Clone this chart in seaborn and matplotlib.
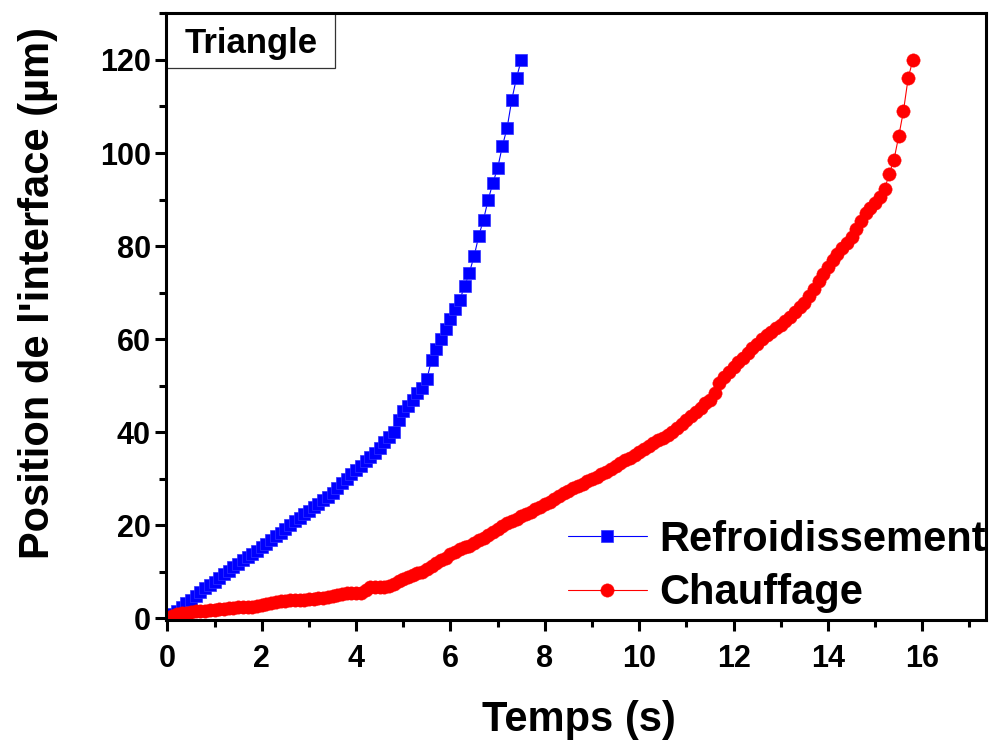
import numpy as np
import pandas as pd
import matplotlib
matplotlib.use("Agg")
import matplotlib.pyplot as plt
from matplotlib.patches import Rectangle
from matplotlib.ticker import MultipleLocator
import seaborn as sns

# temps (s) et position de l'interface (µm)
t_refroid = [0.0, 0.1, 0.2, 0.3, 0.4, 0.5, 0.6, 0.7, 0.8, 0.9,
             1.0, 1.1, 1.2, 1.3, 1.4, 1.5, 1.6, 1.7, 1.8, 1.9,
             2.0, 2.1, 2.2, 2.3, 2.4, 2.5, 2.6, 2.7, 2.8, 2.9,
             3.0, 3.1, 3.2, 3.3, 3.4, 3.5, 3.6, 3.7, 3.8, 3.9,
             4.0, 4.1, 4.2, 4.3, 4.4, 4.5, 4.6, 4.7, 4.8, 4.9,
             5.0, 5.1, 5.2, 5.3, 5.4, 5.5, 5.6, 5.7, 5.8, 5.9,
             6.0, 6.1, 6.2, 6.3, 6.4, 6.5, 6.6, 6.7, 6.8, 6.9,
             7.0, 7.1, 7.2, 7.3, 7.4, 7.5]
pos_refroid = [0.0, 0.8, 1.6, 2.4, 3.2, 4.0, 4.8, 5.6, 6.4, 7.1,
               7.8, 8.6, 9.4, 10.2, 10.9, 11.7, 12.4, 13.1, 13.8, 14.5,
               15.2, 16.0, 16.8, 17.6, 18.4, 19.2, 20.0, 20.9, 21.6, 22.3,
               23.0, 23.8, 24.6, 25.3, 26.1, 27.0, 28.0, 29.0, 30.0, 31.0,
               31.9, 32.8, 33.8, 34.7, 35.6, 36.5, 37.9, 39.0, 40.1, 42.7,
               44.5, 45.6, 47.0, 48.5, 49.4, 51.4, 55.6, 57.8, 60.0, 62.2,
               64.3, 66.4, 68.5, 71.4, 74.3, 77.8, 82.2, 85.7, 90.0, 93.6,
               96.8, 101.5, 105.4, 111.5, 116.2, 120.0]

t_chauff = [0.0, 0.1, 0.2, 0.3, 0.4, 0.5, 0.6, 0.7, 0.8, 0.9,
            1.0, 1.1, 1.2, 1.3, 1.4, 1.5, 1.6, 1.7, 1.8, 1.9,
            2.0, 2.1, 2.2, 2.3, 2.4, 2.5, 2.6, 2.7, 2.8, 2.9,
            3.0, 3.1, 3.2, 3.3, 3.4, 3.5, 3.6, 3.7, 3.8, 3.9,
            4.0, 4.1, 4.2, 4.3, 4.4, 4.5, 4.6, 4.7, 4.8, 4.9,
            5.0, 5.1, 5.2, 5.3, 5.4, 5.5, 5.6, 5.7, 5.8, 5.9,
            6.0, 6.1, 6.2, 6.3, 6.4, 6.5, 6.6, 6.7, 6.8, 6.9,
            7.0, 7.1, 7.2, 7.3, 7.4, 7.5, 7.6, 7.7, 7.8, 7.9,
            8.0, 8.1, 8.2, 8.3, 8.4, 8.5, 8.6, 8.7, 8.8, 8.9,
            9.0, 9.1, 9.2, 9.3, 9.4, 9.5, 9.6, 9.7, 9.8, 9.9,
            10.0, 10.1, 10.2, 10.3, 10.4, 10.5, 10.6, 10.7, 10.8, 10.9,
            11.0, 11.1, 11.2, 11.3, 11.4, 11.5, 11.6, 11.7, 11.8, 11.9,
            12.0, 12.1, 12.2, 12.3, 12.4, 12.5, 12.6, 12.7, 12.8, 12.9,
            13.0, 13.1, 13.2, 13.3, 13.4, 13.5, 13.6, 13.7, 13.8, 13.9,
            14.0, 14.1, 14.2, 14.3, 14.4, 14.5, 14.6, 14.7, 14.8, 14.9,
            15.0, 15.1, 15.2, 15.3, 15.4, 15.5, 15.6, 15.7, 15.8]
pos_chauff = [0.0, 0.5, 0.8, 1.0, 1.2, 1.4, 1.5, 1.6, 1.6, 1.7,
              1.8, 1.9, 2.0, 2.1, 2.2, 2.3, 2.4, 2.4, 2.5, 2.6,
              2.8, 3.0, 3.2, 3.4, 3.6, 3.7, 3.8, 3.9, 3.9, 4.0,
              4.1, 4.2, 4.3, 4.4, 4.6, 4.8, 5.0, 5.2, 5.3, 5.3,
              5.3, 5.4, 6.0, 6.6, 6.7, 6.7, 6.8, 6.9, 7.4, 7.9,
              8.4, 8.8, 9.2, 9.6, 10.0, 10.6, 11.2, 11.8, 12.4, 13.0,
              13.7, 14.3, 14.8, 15.2, 15.6, 16.1, 16.7, 17.3, 17.9, 18.6,
              19.2, 19.8, 20.4, 20.9, 21.4, 21.9, 22.4, 22.9, 23.4, 23.9,
              24.5, 25.0, 25.6, 26.2, 26.8, 27.3, 27.9, 28.4, 28.9, 29.4,
              29.9, 30.4, 31.0, 31.5, 32.1, 32.7, 33.3, 33.9, 34.5, 35.1,
              35.8, 36.4, 37.0, 37.6, 38.2, 38.8, 39.4, 40.1, 40.9, 41.7,
              42.5, 43.4, 44.3, 45.2, 46.2, 47.0, 48.5, 50.5, 51.9, 53.0,
              54.0, 55.0, 56.0, 57.0, 58.0, 59.0, 60.0, 60.9, 61.6, 62.3,
              63.0, 63.8, 64.8, 65.8, 66.8, 67.8, 69.2, 70.8, 72.4, 73.9,
              75.5, 77.0, 78.3, 79.5, 80.7, 82.0, 83.6, 85.3, 87.0, 88.2,
              89.3, 90.6, 92.2, 95.5, 98.6, 103.6, 109.0, 116.1, 120.0]

x_ticks = [0, 2, 4, 6, 8, 10, 12, 14, 16]
y_ticks = [0, 20, 40, 60, 80, 100, 120]

sns.set_style("ticks")
plt.rcParams["font.family"] = ["Liberation Sans", "DejaVu Sans"]
plt.rcParams["font.weight"] = "bold"
plt.rcParams["text.color"] = "black"
plt.rcParams["axes.labelcolor"] = "black"
plt.rcParams["xtick.color"] = "black"
plt.rcParams["ytick.color"] = "black"

fig = plt.figure(figsize=(9.9, 7.44), dpi=100)
ax = fig.add_axes([166 / 990, 1 - 620 / 744, 820 / 990, 607 / 744])

df_r = pd.DataFrame({"Temps": t_refroid, "Position": pos_refroid})
df_c = pd.DataFrame({"Temps": t_chauff, "Position": pos_chauff})

sns.lineplot(data=df_r, x="Temps", y="Position", ax=ax, color="#0000ff",
             marker="s", markersize=8.6, mec="#3030ff", mew=0.5, lw=0.8,
             sort=False, estimator=None, label="Refroidissement")
sns.lineplot(data=df_c, x="Temps", y="Position", ax=ax, color="#ff0000",
             marker="o", markersize=9.6, mec="#ff0000", mew=0.3, lw=0.8,
             sort=False, estimator=None, label="Chauffage")

ax.set_xlim(-0.03, 17.35)
ax.set_ylim(-0.4, 130.1)
ax.set_xticks(x_ticks)
ax.set_yticks(y_ticks)
ax.xaxis.set_minor_locator(MultipleLocator(1))
ax.yaxis.set_minor_locator(MultipleLocator(10))
ax.tick_params(which="major", direction="out", length=8, width=2.2,
               labelsize=22, colors="black")
ax.tick_params(which="minor", direction="out", length=5, width=2.2,
               colors="black")
ax.tick_params(axis="x", which="major", pad=9)
ax.tick_params(axis="y", which="major", pad=3)
for lab in ax.get_xticklabels() + ax.get_yticklabels():
    lab.set_fontweight("bold")
for sp in ax.spines.values():
    sp.set_linewidth(2.2)
    sp.set_color("black")

ax.set_xlabel("Temps (s)", fontsize=30, fontweight="bold")
ax.set_ylabel("Position de l'interface (µm)", fontsize=30, fontweight="bold")
ax.xaxis.set_label_coords(0.504, -0.132)
ax.yaxis.set_label_coords(-0.132, 0.538)

# cadre "Triangle"
ax.add_patch(Rectangle((0.0, 0.909), 0.206, 0.091, transform=ax.transAxes,
                       fill=False, edgecolor="#333333", lw=0.9, clip_on=False))
ax.text(0.104, 0.950, "Triangle", transform=ax.transAxes, fontsize=25,
        fontweight="bold", ha="center", va="center", color="black")

ax.legend(loc="upper left", bbox_to_anchor=(0.49, 0.165), frameon=False,
          handlelength=1.9, handletextpad=0.3, borderpad=0,
          borderaxespad=0, labelspacing=0.32, numpoints=1,
          prop={"weight": "bold", "size": 30})

fig.savefig("out.png", dpi=100)
